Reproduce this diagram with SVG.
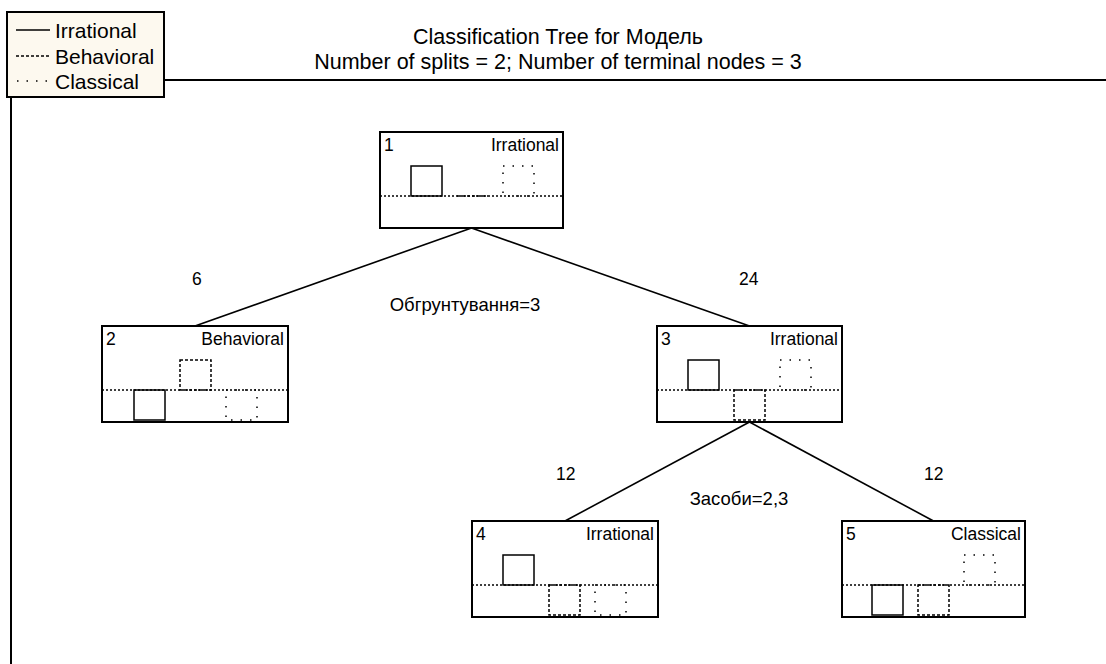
<svg xmlns="http://www.w3.org/2000/svg" width="1106" height="664" viewBox="0 0 1106 664">
  <style>
    text { font-family: "Liberation Sans", Arial, sans-serif; fill: #000; }
    .title { font-size: 21.5px; text-anchor: middle; }
    .leg { font-size: 21px; }
    .lbl { font-size: 17.5px; }
    .split { font-size: 18.5px; text-anchor: middle; }
    .cls { font-size: 17.5px; text-anchor: end; }
    .box { fill: #fff; stroke: #000; stroke-width: 2; }
    .base { stroke: #000; stroke-width: 1.5; stroke-dasharray: 2 2; fill: none; }
    .irr { fill: none; stroke: #000; stroke-width: 1.5; }
    .beh { fill: none; stroke: #000; stroke-width: 1.5; stroke-dasharray: 3 2; }
    .clas { fill: none; stroke: #000; stroke-width: 1.5; stroke-dasharray: 1.5 8; }
    .edge { stroke: #000; stroke-width: 1.6; fill: none; }
    .frame { stroke: #000; stroke-width: 2; fill: none; }
  </style>
  <rect width="1106" height="664" fill="#fff"/>

  <g id="frame">
    <line class="frame" x1="164" y1="80" x2="1106" y2="80"/>
    <line class="frame" x1="11" y1="97" x2="11" y2="664"/>
  </g>

  <g id="legend">
    <rect x="7" y="12" width="157" height="85" fill="#fdf9ef" stroke="#000" stroke-width="2"/>
    <line class="irr" x1="16" y1="30" x2="50" y2="30"/>
    <line class="beh" x1="16" y1="56" x2="50" y2="56"/>
    <line class="clas" x1="17" y1="81" x2="50" y2="81"/>
    <text class="leg" x="55" y="37.5">Irrational</text>
    <text class="leg" x="55" y="63.5">Behavioral</text>
    <text class="leg" x="55" y="88.5">Classical</text>
  </g>

  <g id="title">
    <text class="title" x="558" y="44">Classification Tree for Модель</text>
    <text class="title" x="558" y="69">Number of splits = 2; Number of terminal nodes = 3</text>
  </g>

  <g id="connectors">
    <line class="edge" x1="471.5" y1="228" x2="195" y2="326"/>
    <line class="edge" x1="471.5" y1="228" x2="749.5" y2="326"/>
    <line class="edge" x1="749.5" y1="422" x2="565" y2="521"/>
    <line class="edge" x1="749.5" y1="422" x2="933.5" y2="521"/>
    <text class="lbl" x="192" y="285">6</text>
    <text class="lbl" x="739" y="285">24</text>
    <text class="split" x="465" y="311">Обгрунтування=3</text>
    <text class="lbl" x="556" y="480">12</text>
    <text class="lbl" x="924" y="480">12</text>
    <text class="split" x="739" y="505">Засоби=2,3</text>
  </g>

  <g id="node1">
    <rect class="box" x="380" y="132" width="183" height="96"/>
    <text class="lbl" x="384" y="151">1</text>
    <text class="cls" x="559" y="151">Irrational</text>
    <line class="base" x1="380" y1="196" x2="563" y2="196"/>
    <rect class="irr" x="411" y="166" width="31" height="30"/>
    <line class="beh" x1="457" y1="196" x2="488" y2="196"/>
    <rect class="clas" x="503" y="166" width="31" height="30"/>
  </g>

  <g id="node2">
    <rect class="box" x="102" y="326" width="186" height="96"/>
    <text class="lbl" x="106" y="345">2</text>
    <text class="cls" x="284" y="345">Behavioral</text>
    <line class="base" x1="102" y1="390" x2="288" y2="390"/>
    <rect class="irr" x="134" y="390" width="31" height="30"/>
    <rect class="beh" x="180" y="360" width="31" height="30"/>
    <rect class="clas" x="226" y="390" width="31" height="30"/>
  </g>

  <g id="node3">
    <rect class="box" x="657" y="326" width="185" height="96"/>
    <text class="lbl" x="661" y="345">3</text>
    <text class="cls" x="838" y="345">Irrational</text>
    <line class="base" x1="657" y1="390" x2="842" y2="390"/>
    <rect class="irr" x="688" y="360" width="31" height="30"/>
    <rect class="beh" x="734" y="390" width="31" height="30"/>
    <rect class="clas" x="780" y="360" width="31" height="30"/>
  </g>

  <g id="node4">
    <rect class="box" x="472" y="521" width="186" height="96"/>
    <text class="lbl" x="476" y="540">4</text>
    <text class="cls" x="654" y="540">Irrational</text>
    <line class="base" x1="472" y1="585" x2="658" y2="585"/>
    <rect class="irr" x="503" y="555" width="31" height="30"/>
    <rect class="beh" x="549" y="585" width="31" height="30"/>
    <rect class="clas" x="595" y="585" width="31" height="30"/>
  </g>

  <g id="node5">
    <rect class="box" x="842" y="521" width="183" height="96"/>
    <text class="lbl" x="846" y="540">5</text>
    <text class="cls" x="1021" y="540">Classical</text>
    <line class="base" x1="842" y1="585" x2="1025" y2="585"/>
    <rect class="irr" x="872" y="585" width="31" height="30"/>
    <rect class="beh" x="918" y="585" width="31" height="30"/>
    <rect class="clas" x="964" y="555" width="31" height="30"/>
  </g>
</svg>
